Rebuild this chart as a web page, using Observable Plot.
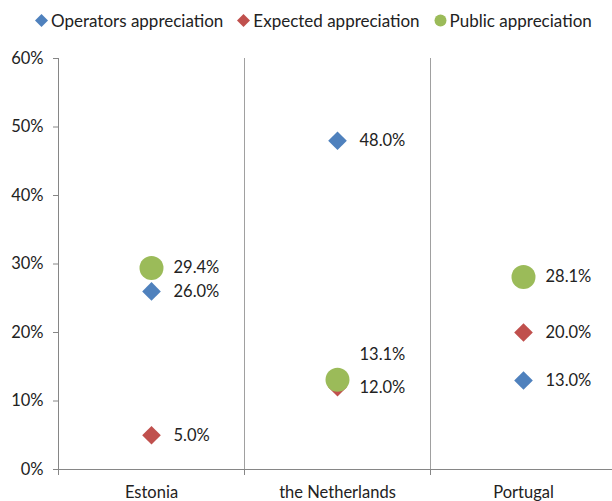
<!DOCTYPE html>
<html>
<head>
<meta charset="utf-8">
<script src="https://cdn.jsdelivr.net/npm/d3@7"></script>
<script src="https://cdn.jsdelivr.net/npm/@observablehq/plot@0.6"></script>
<style>
  body { margin: 0; background: #fff; }
  #wrap { position: relative; width: 612px; height: 501px; overflow: hidden; }
  #legend { position: absolute; left: 35px; top: 10px; display: flex; gap: 14px; font-family: Lato, sans-serif; font-size: 17px; color: #222; align-items: center; }
  #legend .item { display: flex; align-items: center; gap: 3px; }
  #chart { position: absolute; left: 0; top: 0; }
</style>
</head>
<body>
<div id="wrap">
  <div id="chart"></div>
  <div id="legend"></div>
</div>
<script>
const countries = ["Estonia", "the Netherlands", "Portugal"];
const seriesNames = ["Operators appreciation", "Expected appreciation", "Public appreciation"];
const operators = [26.0, 48.0, 13.0];
const expected = [5.0, 12.0, 20.0];
const publicAppr = [29.4, 13.1, 28.1];
const yTicks = [0, 10, 20, 30, 40, 50, 60];

const colors = ["#4f81bd", "#c0504d", "#9bbb59"];
const symbols = ["diamond2", "diamond2", "circle"];
const seriesValues = [operators, expected, publicAppr];

const data = [];
seriesNames.forEach((s, si) => {
  countries.forEach((c, ci) => {
    data.push({series: s, si, country: c, ci, value: seriesValues[si][ci]});
  });
});

const isRaised = d => d.si === 2 && d.country === "the Netherlands";

const chart = Plot.plot({
  width: 612,
  height: 501,
  marginTop: 58,
  marginBottom: 32,
  marginLeft: 58,
  marginRight: 0,
  style: {fontFamily: "Lato, sans-serif", fontSize: "16.5px", color: "#222", background: "#fff"},
  x: {type: "linear", domain: [0, countries.length], range: [58, 616]},
  y: {domain: [0, 60]},
  marks: [
    Plot.ruleX([1, 2], {stroke: "#a0a0a0", strokeWidth: 1}),
    Plot.ruleX([0], {stroke: "#868686", strokeWidth: 1}),
    Plot.ruleY([0], {stroke: "#868686", strokeWidth: 1}),
    Plot.axisY({ticks: yTicks, tickFormat: d => d + "%", tickSize: 5, tickPadding: 10, stroke: "#868686", fill: "#222", label: null}),
    Plot.axisX({ticks: [0, 1, 2, 3], tickFormat: () => "", tickSize: 6, stroke: "#868686", label: null}),
    Plot.axisX({ticks: countries.map((c, i) => i + 0.5), tickFormat: d => countries[Math.floor(d)], tickSize: 0, tickPadding: 17, fill: "#222", label: null}),
    ...[0, 1, 2].map(si => Plot.dot(data.filter(d => d.si === si), {
      x: d => d.ci + 0.5, y: "value",
      symbol: () => symbols[si], r: si === 2 ? 12 : 8.4,
      fill: colors[si], stroke: "none"
    })),
    Plot.text(data.filter(d => !isRaised(d)), {
      x: d => d.ci + 0.5, y: "value", text: d => d.value.toFixed(1) + "%",
      dx: 22, textAnchor: "start", fill: "#222", fontSize: 16.5
    }),
    Plot.text(data.filter(isRaised), {
      x: d => d.ci + 0.5, y: "value", text: d => d.value.toFixed(1) + "%",
      dx: 22, dy: -25, textAnchor: "start", fill: "#222", fontSize: 16.5
    })
  ]
});
document.getElementById("chart").appendChild(chart);

const legend = document.getElementById("legend");
seriesNames.forEach((s, i) => {
  const item = document.createElement("div");
  item.className = "item";
  const sw = document.createElementNS("http://www.w3.org/2000/svg", "svg");
  sw.setAttribute("width", 13); sw.setAttribute("height", 13);
  const shape = i === 2
    ? `<circle cx="6.5" cy="6.5" r="6" fill="${colors[i]}"/>`
    : `<path d="M6.5 0L13 6.5L6.5 13L0 6.5Z" fill="${colors[i]}"/>`;
  sw.innerHTML = shape;
  const label = document.createElement("span");
  label.textContent = s;
  item.appendChild(sw); item.appendChild(label);
  legend.appendChild(item);
});
</script>
</body>
</html>
